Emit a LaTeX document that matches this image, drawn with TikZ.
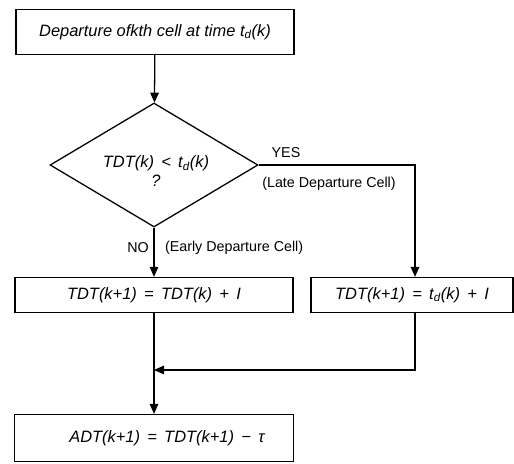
\documentclass[tikz,border=0pt]{standalone}
\usepackage{fontspec}
\setmainfont{Liberation Sans}
\usepackage{tikz}
\usetikzlibrary{shapes.geometric,arrows.meta}

\tikzset{
	stepbox/.style={draw, line width=0.9pt, inner sep=0pt, font=\fontsize{11.5}{14}\selectfont\itshape},
	decision/.style={draw, diamond, line width=0.9pt, inner sep=0pt},
	boxtext/.style={font=\fontsize{11.5}{13}\selectfont\itshape, align=center, inner sep=0pt},
	flow/.style={line width=0.9pt, -{Triangle[length=7pt,width=6pt]}},
	lbl/.style={font=\normalsize}
}

\begin{document}
\begin{tikzpicture}[x=0.7pt, y=-0.7pt]
	\useasboundingbox (0,0) rectangle (514,463);
	\node[stepbox, minimum width=278*0.7pt, minimum height=45*0.7pt] (dep) at (155,32) {Departure ofkth cell at time t\textsubscript{d}(k)};
	\node[decision, minimum width=208*0.7pt, minimum height=124*0.7pt] (test) at (154,165) {};
	\node[boxtext] (testtext) at (156,171) {TDT(k) \,<\, t\textsubscript{d}(k)\\?};
	\node[stepbox, minimum width=278*0.7pt, minimum height=35*0.7pt] (early) at (154,295) {TDT(k+1) \,=\, TDT(k) \,+\, I};
	\node[stepbox, minimum width=202*0.7pt, minimum height=35*0.7pt] (late) at (412,295) {TDT(k+1) \,=\, t\textsubscript{d}(k) \,+\, I};
	\node[stepbox, minimum width=279*0.7pt, minimum height=47*0.7pt] (adt) at (154,438) {\hspace{18pt}ADT(k+1) \,=\, TDT(k+1) \,−\, τ};
	\coordinate (corner) at (415,165);
	\coordinate (join) at (154,370);
	\coordinate (back) at (415,370);
	% connectors
	\draw[flow] (dep) -- (test);
	\draw[flow] (test.south) -- (early);
	\draw[flow] (test.east) -- (corner) -- (corner |- late.north);
	\draw[line width=0.9pt] (early.south) -- (join);
	\draw[flow] (late.south -| back) -- (back) -- (join);
	\draw[flow] (join) -- (adt);
	% labels
	\node[lbl] (yes) at (286,153) {YES};
	\node[lbl] (latelbl) at (329,184) {(Late Departure Cell)};
	\node[lbl] (no) at (138,248) {NO};
	\node[lbl, anchor=west] (earlylbl) at (160,248) {(Early Departure Cell)};
\end{tikzpicture}
\end{document}
